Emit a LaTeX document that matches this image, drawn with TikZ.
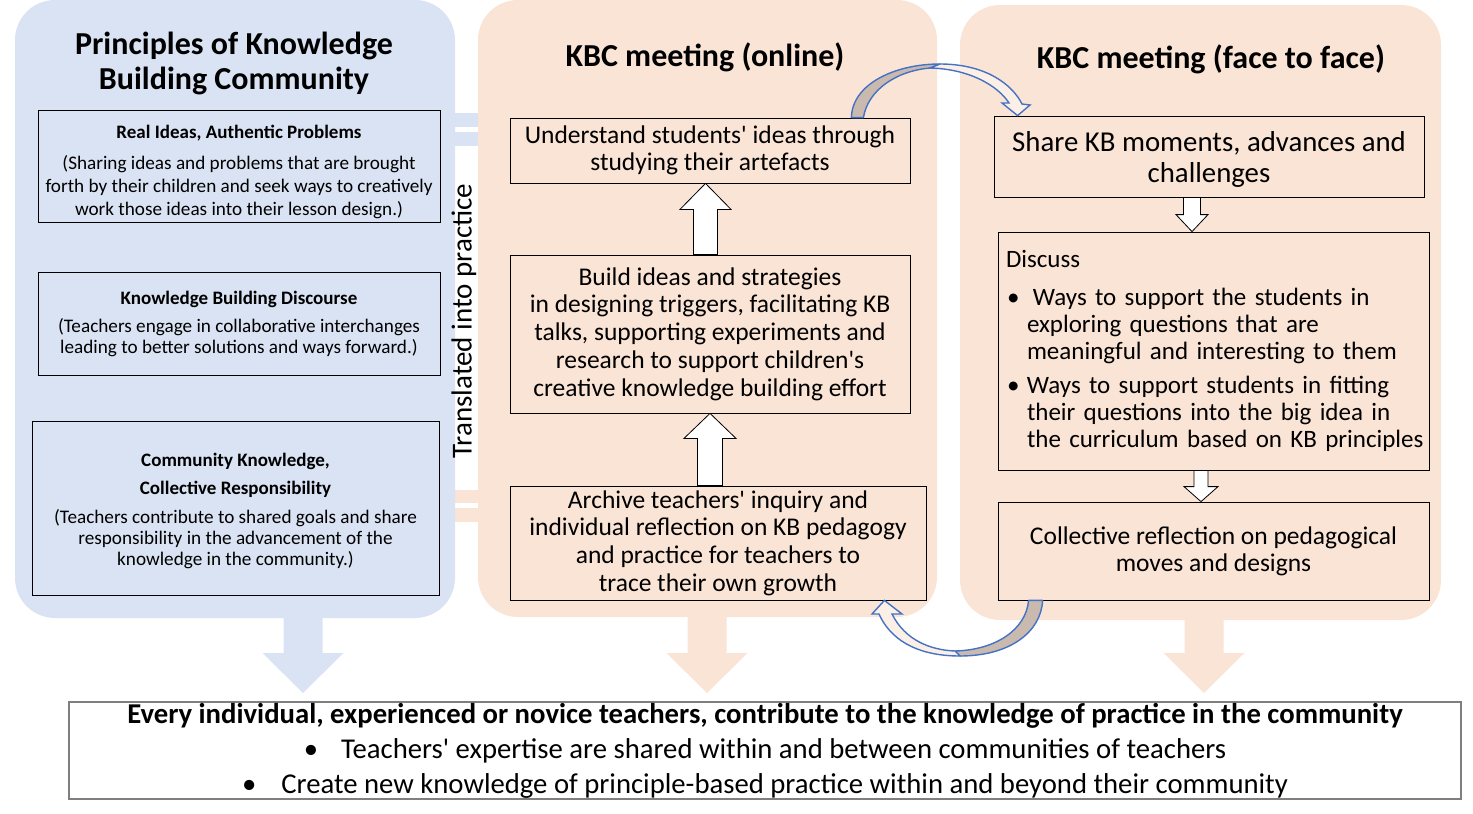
\documentclass[tikz,border=0pt]{standalone}
\usepackage{fontspec}
\setmainfont{Carlito}[Ligatures=TeXOff]
\usetikzlibrary{calc, positioning}

\definecolor{kbblue}{HTML}{DAE3F3}
\definecolor{kbpeach}{HTML}{FAE4D6}
\definecolor{curveblue}{HTML}{4472C4}
\definecolor{curvebrown}{HTML}{C9B9AE}
\definecolor{framegray}{HTML}{7F7F7F}

% block arrow: start, tip, half shaft, half head, head length
\newcommand{\blockarrow}[6][blockarrow]{%
  \path[#1] let \p1=(#2), \p2=(#3), \p3=($(#3)!#6!(#2)$) in
    (\x1-#4,\y1) -- (\x1-#4,\y3) -- (\x1-#5,\y3) -- (\x1,\y2) --
    (\x1+#5,\y3) -- (\x1+#4,\y3) -- (\x1+#4,\y1) -- cycle;}

\begin{document}
\begin{tikzpicture}[x=1pt, y=-1pt,
    panel/.style={draw=none, rounded corners=40pt, inner sep=0pt},
    titletext/.style={font=\bfseries\fontsize{32}{35}\selectfont, align=center},
    stagebox/.style={draw=black, line width=0.8pt, align=center, inner sep=2pt},
    blockarrow/.style={draw=black, line width=0.8pt, fill=white},
    fadeblue/.style={fill=kbblue},
    fadepeach/.style={fill=kbpeach},
    curvedback/.style={draw=curveblue, line width=1.4pt, fill=curvebrown, line join=round},
    curvedfront/.style={draw=curveblue, line width=1.4pt, fill=kbpeach!60!white, line join=miter}]
  \useasboundingbox (0,0) rectangle (1473,814);

  % bars between the panels
  \fill[kbblue] (450,113) rectangle (482,127);
  \fill[kbblue] (450,132) rectangle (482,146);
  \fill[kbpeach] (450,490) rectangle (480,503);
  \fill[kbpeach] (450,508) rectangle (480,522);

  % panels
  \node[panel, fill=kbblue, minimum width=440pt, minimum height=618pt] (principles) at (235,309) {};
  \node[panel, fill=kbpeach, minimum width=459pt, minimum height=617pt] (online) at (707.5,308.5) {};
  \node[panel, fill=kbpeach, minimum width=481pt, minimum height=615pt] (face) at (1200.5,312.5) {};

  \node[titletext] (ptitle) at (234,63) {Principles of Knowledge\\Building Community};
  \node[titletext] (otitle) at (705,57) {KBC meeting (online)};
  \node[titletext] (ftitle) at (1211,59) {KBC meeting (face to face)};

  % principles
  \node[stagebox, minimum width=402pt, minimum height=112pt, font=\fontsize{19.2}{23}\selectfont] (ideas) at (239,166)
    {{\bfseries\fontsize{19}{23}\selectfont\rule{0pt}{24.5pt}Real Ideas, Authentic Problems}\\[8pt]
     (Sharing ideas and problems that are brought\\forth by their children and seek ways to creatively\\work those ideas into their lesson design.)};
  \node[stagebox, minimum width=402pt, minimum height=103pt, font=\fontsize{19.2}{21}\selectfont] (discourse) at (239,323.5)
    {{\bfseries\fontsize{19}{21}\selectfont Knowledge Building Discourse}\\[7pt]
     (Teachers engage in collaborative interchanges\\leading to better solutions and ways forward.)};
  \node[stagebox, minimum width=407pt, minimum height=174pt, font=\fontsize{19.2}{21}\selectfont] (community) at (235.5,508)
    {{\bfseries\fontsize{19}{21}\selectfont\rule{0pt}{18.5pt}Community Knowledge,}\\[7pt]
     {\bfseries\fontsize{19}{21}\selectfont Collective Responsibility}\\[8pt]
     (Teachers contribute to shared goals and share\\responsibility in the advancement of the\\knowledge in the community.)};

  \node[rotate=90, font=\fontsize{29}{33}\selectfont] (translated) at (464,321) {Translated into practice};

  % online meeting
  \node[stagebox, minimum width=400pt, minimum height=65pt, font=\fontsize{25.5}{27}\selectfont] (understand) at (710,150.5)
    {Understand students' ideas through\\studying their artefacts};
  \node[stagebox, minimum width=400pt, minimum height=158pt, font=\fontsize{25.5}{27.7}\selectfont] (build) at (710,334)
    {Build ideas and strategies\\in designing triggers, facilitating KB\\talks, supporting experiments and\\research to support children's\\creative knowledge building effort};
  \node[stagebox, minimum width=416pt, minimum height=114pt, font=\fontsize{25.5}{27.7}\selectfont] (archive) at (718,543)
    {Archive teachers' inquiry and\\individual reflection on KB pedagogy\\and practice for teachers to\\trace their own growth};

  % face to face meeting
  \node[stagebox, minimum width=430pt, minimum height=81pt, font=\fontsize{28.8}{31}\selectfont] (share) at (1209,156.5)
    {\rule{0pt}{25pt}Share KB moments, advances and\\challenges};
  \node[stagebox, align=left, text width=415pt, inner xsep=8pt, minimum height=238pt, font=\fontsize{25}{27}\selectfont] (discuss) at (1213.5,351)
    {\mbox{Discuss}\\[11pt]
     \mbox{\makebox[21pt][l]{\hspace{1pt}\textbullet}\hspace{6pt}Ways to support the students in}\\
     \mbox{\hspace*{21pt}exploring questions that are}\\
     \mbox{\hspace*{21pt}meaningful and interesting to them}\\[7pt]
     \mbox{\makebox[21pt][l]{\hspace{1pt}\textbullet}Ways to support students in fitting}\\
     \mbox{\hspace*{21pt}their questions into the big idea in}\\
     \mbox{\hspace*{21pt}the curriculum based on KB principles}};
  \node[stagebox, minimum width=431pt, minimum height=98pt, font=\fontsize{25.5}{27}\selectfont] (reflect) at (1213.5,551)
    {Collective reflection on pedagogical\\moves and designs};

  % outcome
  \node[draw=framegray, line width=2pt, minimum width=1392pt, minimum height=97pt, align=center, inner sep=0pt,
        font=\fontsize{28.7}{35}\selectfont] (outcome) at (765,750.5)
    {{\bfseries Every individual, experienced or novice teachers, contribute to the knowledge of practice in the community}\\
     \textbullet\hspace{23pt}Teachers' expertise are shared within and between communities of teachers\\
     \textbullet\hspace{25pt}Create new knowledge of principle-based practice within and beyond their community};

  % block arrows
  \blockarrow{[xshift=-4.5pt]build.north}{[xshift=-4.5pt]understand.south}{12pt}{25.5pt}{26pt}
  \blockarrow{build.south |- archive.north}{build.south}{12.5pt}{26pt}{25pt}
  \coordinate (sharefoot) at ([xshift=-17pt]share.south);
  \coordinate (discussfoot) at ([xshift=-12.5pt]discuss.south);
  \blockarrow{sharefoot}{sharefoot |- discuss.north}{8.5pt}{16pt}{17pt}
  \blockarrow{discussfoot}{discussfoot |- reflect.north}{7pt}{17pt}{15pt}

  % arrows into the outcome
  \coordinate (pfoot) at ([xshift=68pt]principles.south);
  \coordinate (ofoot) at ([xshift=-0.5pt]online.south);
  \coordinate (ffoot) at ([xshift=3.5pt]face.south);
  \blockarrow[fadeblue]{pfoot}{$(pfoot |- outcome.north)+(0,-8)$}{19.5pt}{40.5pt}{40pt}
  \blockarrow[fadepeach]{ofoot}{$(ofoot |- outcome.north)+(0,-8)$}{19.5pt}{40.5pt}{40pt}
  \blockarrow[fadepeach]{ffoot}{$(ffoot |- outcome.north)+(0,-8)$}{19.5pt}{40.5pt}{40pt}

  % curved arrows
  \draw[curvedback] ([xshift=-59pt]understand.north east) .. controls (852,84) and (895,64) .. (940,64)
    -- (930,68) .. controls (896,71) and (868,90) .. ([xshift=-47pt]understand.north east) -- cycle;
  \draw[curvedfront] (940,64) .. controls (985,64) and (1012,84) .. (1022,104) -- (1030,105)
    -- ([xshift=24pt]share.north west) -- (1002,103) -- (1009,103) .. controls (998,86) and (970,69) .. (930,68) -- cycle;
  \draw[curvedback] ([xshift=45pt]reflect.south west) .. controls (1041,632) and (1010,656) .. (960,656)
    -- (955,651) .. controls (995,650) and (1026,630) .. ([xshift=31pt]reflect.south west) -- cycle;
  \draw[curvedfront] (960,656) .. controls (925,656) and (893,645) .. (879,614) -- (872,614)
    -- ([xshift=-42pt]archive.south east) -- (902,614) -- (892,614) .. controls (905,640) and (930,650) .. (955,651) -- cycle;
\end{tikzpicture}
\end{document}
